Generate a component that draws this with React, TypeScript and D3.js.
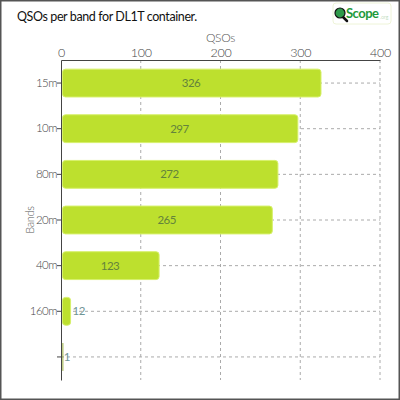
import { useEffect, useRef } from 'react';
import * as d3 from 'd3';

const bands = ['15m', '10m', '80m', '20m', '40m', '160m', ''];
const qsos = [326, 297, 272, 265, 123, 12, 1];
const xTicks = [0, 100, 200, 300, 400];

const FONT = 'Lato, "DejaVu Sans", sans-serif';

function QsoChart() {
  const svgRef = useRef<SVGSVGElement>(null);

  useEffect(() => {
    if (!svgRef.current) return;
    const W = 400;
    const H = 400;
    const margin = { top: 60, right: 20, bottom: 20, left: 61 };
    const innerWidth = W - margin.left - margin.right;
    const innerHeight = H - margin.top - margin.bottom;

    const svg = d3.select(svgRef.current);
    svg.selectAll('*').remove();
    svg.attr('width', W).attr('height', H).style('font-family', FONT).style('font-weight', 300);

    svg.append('rect').attr('width', W).attr('height', H).attr('fill', '#fff');
    svg.append('rect')
      .attr('x', 0.75).attr('y', 0.75).attr('width', W - 1.5).attr('height', H - 1.5)
      .attr('fill', 'none').attr('stroke', '#555').attr('stroke-width', 1.5);

    // title
    svg.append('text')
      .attr('x', 17).attr('y', 21)
      .attr('font-size', 12.5).attr('font-weight', 400).attr('fill', '#111')
      .attr('letter-spacing', -0.4)
      .text('QSOs per band for DL1T container.');

    // logo
    const logo = svg.append('g').attr('transform', 'translate(333,3)');
    logo.append('rect').attr('width', 58).attr('height', 21).attr('rx', 3)
      .attr('fill', '#fff').attr('stroke', '#eef4d8');
    logo.append('line').attr('x1', 8).attr('y1', 12).attr('x2', 14).attr('y2', 18)
      .attr('stroke', '#111').attr('stroke-width', 2.5).attr('stroke-linecap', 'round');
    logo.append('circle').attr('cx', 7).attr('cy', 10).attr('r', 5)
      .attr('fill', '#2e9a4a').attr('stroke', '#111').attr('stroke-width', 1.2);
    logo.append('text').attr('x', 13).attr('y', 15)
      .attr('font-size', 13).attr('font-weight', 'bold').attr('fill', '#1f9a3a')
      .attr('letter-spacing', -0.5).text('Scope');
    logo.append('text').attr('x', 47).attr('y', 16)
      .attr('font-size', 5).attr('fill', '#8bc48b').text('.org');

    const g = svg.append('g').attr('transform', `translate(${margin.left},${margin.top})`);

    const x = d3.scaleLinear().domain([0, 400]).range([0, innerWidth]);
    const y = d3.scaleBand<string>().domain(bands.map((b, i) => b || `_${i}`))
      .range([0, innerHeight]).paddingInner(0.39).paddingOuter(0.2);
    const key = (i: number) => bands[i] || `_${i}`;

    // vertical grid
    g.append('g').selectAll('line').data(xTicks.slice(1)).join('line')
      .attr('x1', (d) => x(d)).attr('x2', (d) => x(d))
      .attr('y1', 0).attr('y2', innerHeight)
      .attr('stroke', '#aaa').attr('stroke-dasharray', '3 3');

    // horizontal grid
    g.append('g').selectAll('line').data(bands.map((_, i) => i)).join('line')
      .attr('x1', 0).attr('x2', innerWidth)
      .attr('y1', (i) => (y(key(i)) ?? 0) + y.bandwidth() / 2)
      .attr('y2', (i) => (y(key(i)) ?? 0) + y.bandwidth() / 2)
      .attr('stroke', '#aaa').attr('stroke-dasharray', '3 3');

    // bars
    g.append('g').selectAll('rect').data(qsos).join('rect')
      .attr('x', 1.5)
      .attr('y', (_, i) => y(key(i)) ?? 0)
      .attr('width', (d) => Math.max(0.8, x(d) - 1.5))
      .attr('height', y.bandwidth())
      .attr('rx', (d) => Math.min(3, (x(d) - 1.5) / 2))
      .attr('fill', (d) => (d < 5 ? '#7f9a10' : '#bde02e'))
      .attr('stroke', (d) => (d < 5 ? 'none' : '#d6f06a'))
      .attr('stroke-width', 1);

    // value labels
    g.append('g').selectAll('text').data(qsos).join('text')
      .attr('x', (d) => (x(d) > 30 ? x(d) / 2 : x(d) + 2))
      .attr('y', (_, i) => (y(key(i)) ?? 0) + y.bandwidth() / 2)
      .attr('dy', '0.35em')
      .attr('text-anchor', (d) => (x(d) > 30 ? 'middle' : 'start'))
      .attr('font-size', 11.5)
      .attr('font-weight', 400)
      .attr('letter-spacing', -0.5)
      .attr('fill', (d) => (x(d) > 30 ? '#64833c' : '#6f9595'))
      .text((d) => d);

    // y axis
    const yAxis = g.append('g')
      .call(d3.axisLeft(y).tickSize(4).tickSizeOuter(0).tickFormat((d) => (d.startsWith('_') ? '' : d)));
    yAxis.select('.domain').attr('stroke', '#444');
    yAxis.selectAll('.tick line').attr('stroke', '#444');
    yAxis.selectAll('text').attr('font-size', 11.5).attr('fill', '#444')
      .attr('font-family', FONT).attr('letter-spacing', -0.5).attr('x', -4);

    // x axis (top)
    const xAxis = g.append('g')
      .call(d3.axisTop(x).tickValues(xTicks).tickSize(0).tickSizeOuter(0).tickPadding(3));
    xAxis.select('.domain').attr('stroke', '#444');
    xAxis.selectAll('text').attr('font-size', 12.5).attr('fill', '#444')
      .attr('font-family', FONT).attr('letter-spacing', -0.3);

    g.append('text')
      .attr('x', innerWidth / 2).attr('y', -18)
      .attr('text-anchor', 'middle').attr('font-size', 12).attr('fill', '#555')
      .attr('letter-spacing', -0.3)
      .text('QSOs');

    g.append('text')
      .attr('transform', `translate(-27,${innerHeight / 2}) rotate(-90)`)
      .attr('text-anchor', 'middle').attr('font-size', 11).attr('fill', '#555')
      .attr('letter-spacing', -0.3)
      .text('Bands');
  }, []);

  return <svg ref={svgRef} style={{ display: 'block' }} />;
}

export default function App() {
  return (
    <div style={{ position: 'absolute', left: 0, top: 0 }}>
      <QsoChart />
    </div>
  );
}
